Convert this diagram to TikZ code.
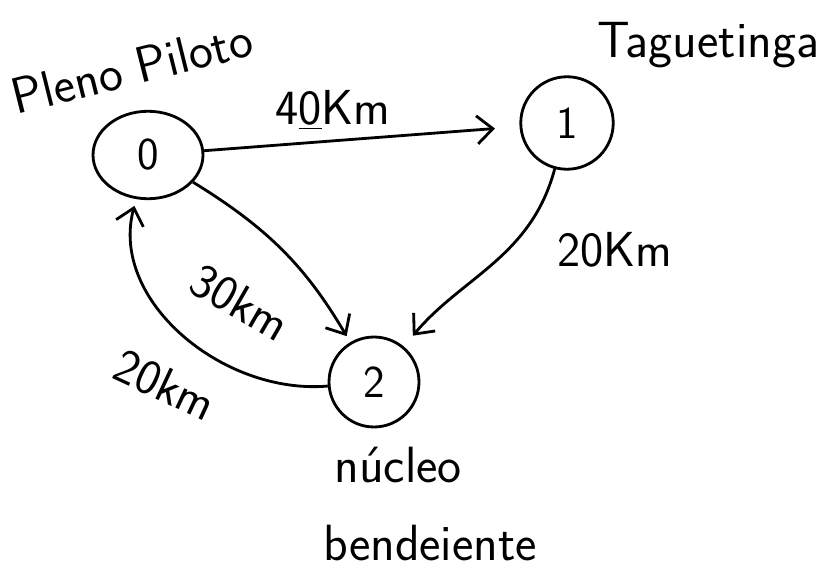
\documentclass[tikz,border=0pt]{standalone}
\usepackage{tikz}
\usetikzlibrary{shapes,arrows.meta}
\tikzstyle{ciudad} = [draw, thick, circle, line width=1.6pt, minimum size=1.85cm, font=\fontsize{26}{30}\selectfont\sffamily]
\tikzstyle{nombre} = [font=\fontsize{29}{33}\selectfont\sffamily]
\tikzstyle{distancia} = [font=\fontsize{28}{32}\selectfont\sffamily]
\tikzstyle{ruta} = [line width=1.6pt, -{Straight Barb[length=9pt,width=16pt,line width=1.6pt]}]

\begin{document}
\begin{tikzpicture}[x=0.02cm,y=0.02cm]
	\useasboundingbox (0,0) rectangle (837,568);
	% ciudades
	\node [ciudad, ellipse, minimum width=2.2cm, minimum height=1.75cm] (n0) at (148,413) {0};
	\node [ciudad] (n1) at (567,445) {1};
	\node [ciudad, minimum size=1.8cm] (n2) at (374,186) {2};
	% nombres
	\node [nombre, rotate=14] (plano) at (132,500) {Pleno Piloto};
	\node [nombre] (tag) at (708,523) {Taguetinga};
	\node [nombre] (nuc) at (398,103) {núcleo};
	\node [nombre] (ban) at (430,25) {bendeiente};
	% rutas
	\draw [ruta, shorten >=14pt] (n0) -- (n1);
	\draw [ruta, shorten >=8pt] (n1) to[out=-105, in=50] (n2);
	\draw [ruta, shorten >=4pt] (n0) to[bend left=14] (n2);
	\draw [ruta, shorten >=4pt] (n2) to[out=185, in=-105] (n0);
	% distancias
	\node [distancia] (d01) at (333,458) {4\underline{0}Km};
	\node [distancia] (d12) at (615,318) {20Km};
	\node [distancia, rotate=-30] (d02) at (240,266) {30km};
	\node [distancia, rotate=-25] (d20) at (165,183) {20km};
\end{tikzpicture}
\end{document}
